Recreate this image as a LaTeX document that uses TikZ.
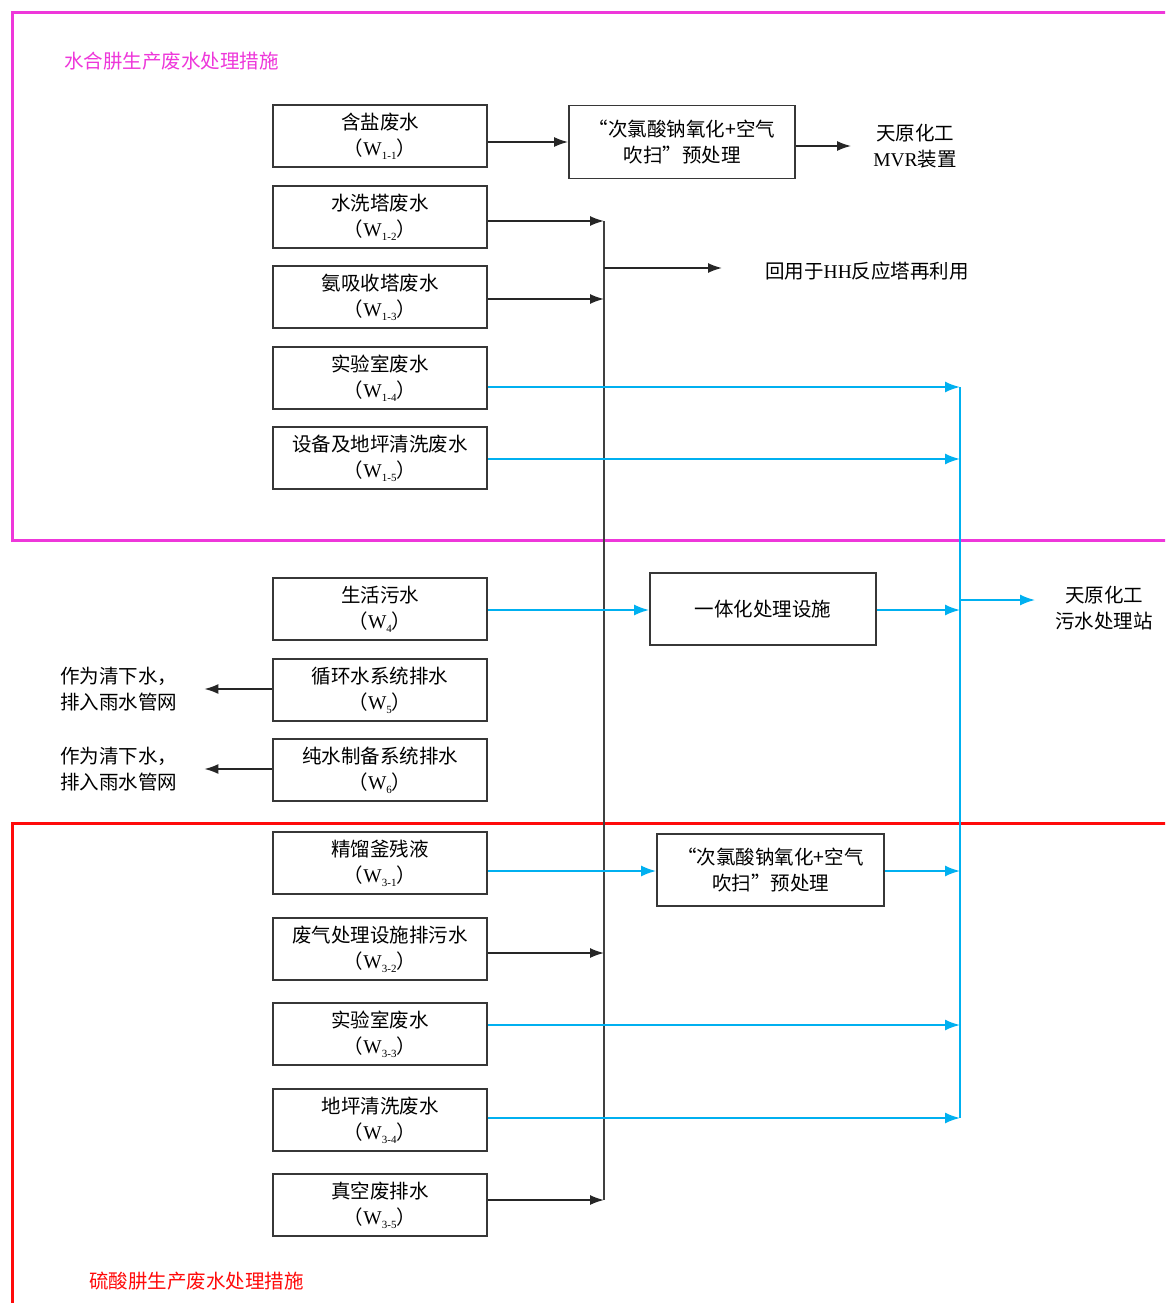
\documentclass[tikz,border=0pt]{standalone}
\usepackage{fontspec}
\setmainfont{Noto Sans CJK SC}
\newfontfamily\lat{Liberation Serif}
\usetikzlibrary{arrows.meta,calc}
\definecolor{pinkf}{RGB}{238,55,218}
\definecolor{bluel}{RGB}{0,176,240}
\definecolor{redf}{RGB}{255,10,10}
\definecolor{boxc}{RGB}{55,55,55}
\newcommand\wsub[1]{（{\lat W}\raisebox{-0.35ex}{\fontsize{11}{11}\selectfont\lat #1}）}
\begin{document}
\begin{tikzpicture}[x=1pt,y=-1pt,
  box/.style={draw=boxc, line width=1.8pt, minimum width=214pt, minimum height=62pt,
    align=center, inner sep=0pt, font=\fontsize{19.5}{26}\selectfont},
  pbox/.style={box, minimum width=226pt, minimum height=73pt},
  txt/.style={inner sep=0pt, align=center, font=\fontsize{19.5}{26}\selectfont},
  blk/.style={draw=black!85, line width=1.6pt, -{Latex[length=14pt,width=10pt]}},
  blkline/.style={draw=black!75, line width=1.8pt},
  bl/.style={draw=bluel, line width=1.8pt, -{Latex[length=15pt,width=11pt]}},
  blline/.style={draw=bluel, line width=1.8pt},
  frame/.style={line width=3pt}]
\useasboundingbox (0,0) rectangle (1165,1303);
\clip (0,0) rectangle (1165,1303);
\fill[white] (0,0) rectangle (1165,1303);
% frames
\draw[frame, draw=pinkf] (12,13) rectangle (1180,540);
\draw[frame, draw=redf] (12,823) rectangle (1180,1320);
\node[anchor=west, inner sep=0pt, text=pinkf, font=\fontsize{19.5}{20}\selectfont] (t1) at (64,61) {水合肼生产废水处理措施};
\node[anchor=west, inner sep=0pt, text=redf, font=\fontsize{19.5}{20}\selectfont] (t2) at (89,1281) {硫酸肼生产废水处理措施};
% left boxes
\node[box] (b1) at (380,136) {含盐废水\\\wsub{1-1}};
\node[box] (b2) at (380,217) {水洗塔废水\\\wsub{1-2}};
\node[box] (b3) at (380,297) {氨吸收塔废水\\\wsub{1-3}};
\node[box] (b4) at (380,378) {实验室废水\\\wsub{1-4}};
\node[box] (b5) at (380,458) {设备及地坪清洗废水\\\wsub{1-5}};
\node[box] (b6) at (380,609) {生活污水\\\wsub{4}};
\node[box] (b7) at (380,690) {循环水系统排水\\\wsub{5}};
\node[box] (b8) at (380,770) {纯水制备系统排水\\\wsub{6}};
\node[box] (b9) at (380,863) {精馏釜残液\\\wsub{3-1}};
\node[box] (b10) at (380,949) {废气处理设施排污水\\\wsub{3-2}};
\node[box] (b11) at (380,1034) {实验室废水\\\wsub{3-3}};
\node[box] (b12) at (380,1120) {地坪清洗废水\\\wsub{3-4}};
\node[box] (b13) at (380,1205) {真空废排水\\\wsub{3-5}};
% process boxes
\node[pbox] (p1) at (682,142) {“次氯酸钠氧化+空气\\吹扫”预处理};
\node[pbox, minimum width=227pt, minimum height=72pt] (p2) at (770.5,870) {“次氯酸钠氧化+空气\\吹扫”预处理};
\node[pbox, minimum height=72pt] (u1) at (763,609) {一体化处理设施};
% text targets
\node[txt] (mvr) at (915,146) {天原化工\\{\lat MVR}装置};
\node[txt, anchor=west] (hh) at (765,271) {回用于{\lat HH}反应塔再利用};
\node[txt] (ws) at (1104,608) {天原化工\\污水处理站};
\node[txt, anchor=west, align=left] (l7) at (60,689) {作为清下水，\\排入雨水管网};
\node[txt, anchor=west, align=left] (l8) at (60,769) {作为清下水，\\排入雨水管网};
% buses
\coordinate (kt) at (604,221);
\coordinate (kb) at (604,1200);
\coordinate (bt) at (960,387);
\coordinate (bb) at (960,1118);
\draw[blkline] (kt) -- (kb);
\draw[blline] (bt) -- (bb);
% black arrows
\coordinate (a1) at ($(b1.east)+(0,6)$);
\draw[blk] (a1) -- (a1 -| p1.west);
\coordinate (ap1) at ($(p1.east)+(0,4)$);
\draw[blk, shorten >=22pt] (ap1) -- (ap1 -| mvr.west);
\coordinate (a2) at ($(b2.east)+(0,4)$);
\draw[blk] (a2) -- (a2 -| kt);
\coordinate (a3) at ($(b3.east)+(0,2)$);
\draw[blk] (a3) -- (a3 -| kt);
\coordinate (hs) at (604,268);
\draw[blk, shorten >=43pt] (hs) -- (hs -| hh.west);
\coordinate (a10) at ($(b10.east)+(0,4)$);
\draw[blk] (a10) -- (a10 -| kt);
\coordinate (a13) at ($(b13.east)+(0,-5)$);
\draw[blk] (a13) -- (a13 -| kb);
\coordinate (a7) at ($(b7.west)+(0,-1)$);
\draw[blk, shorten >=27pt] (a7) -- (a7 -| l7.east);
\coordinate (a8) at ($(b8.west)+(0,-1)$);
\draw[blk, shorten >=27pt] (a8) -- (a8 -| l8.east);
% blue arrows
\coordinate (a4) at ($(b4.east)+(0,9)$);
\draw[bl] (a4) -- (a4 -| bt);
\coordinate (a5) at ($(b5.east)+(0,1)$);
\draw[bl] (a5) -- (a5 -| bt);
\coordinate (a6) at ($(b6.east)+(0,1)$);
\draw[bl] (a6) -- (a6 -| u1.west);
\coordinate (au) at ($(u1.east)+(0,1)$);
\draw[bl] (au) -- (au -| bt);
\coordinate (wsa) at (960,600);
\draw[bl, shorten >=20pt] (wsa) -- (wsa -| ws.west);
\coordinate (a9) at ($(b9.east)+(0,8)$);
\draw[bl] (a9) -- (a9 -| p2.west);
\coordinate (ap2) at ($(p2.east)+(0,1)$);
\draw[bl] (ap2) -- (ap2 -| bt);
\coordinate (a11) at ($(b11.east)+(0,-9)$);
\draw[bl] (a11) -- (a11 -| bt);
\coordinate (a12) at ($(b12.east)+(0,-2)$);
\draw[bl] (a12) -- (a12 -| bt);
\end{tikzpicture}
\end{document}
